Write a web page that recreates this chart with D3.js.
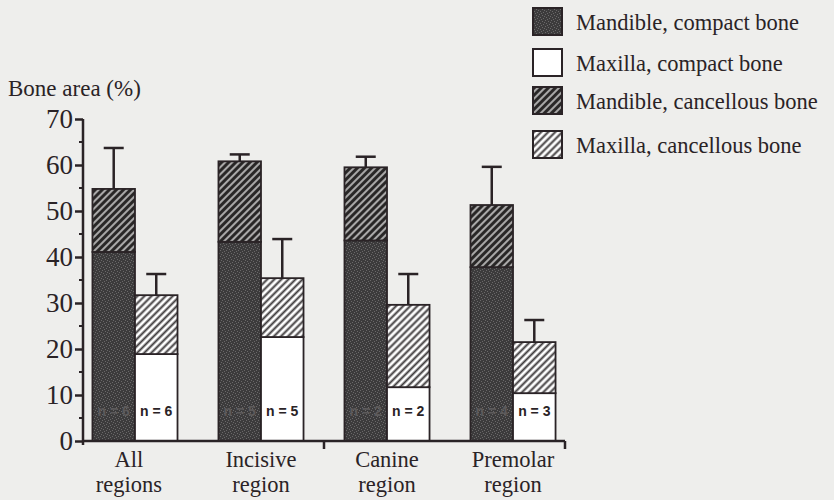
<!DOCTYPE html>
<html>
<head>
<meta charset="utf-8">
<script src="https://cdn.jsdelivr.net/npm/d3@7"></script>
<style>
  html, body { margin: 0; padding: 0; background: #eeeeec; }
  svg { display: block; }
  text { font-family: "Liberation Serif", "DejaVu Serif", serif; fill: #2a2326; }
  .nlab { font-family: "Liberation Sans Narrow", "Liberation Sans", sans-serif; font-weight: bold; font-size: 14px; }
</style>
</head>
<body>
<script>
// categories (two-line labels)
const categories = [["All", "regions"], ["Incisive", "region"], ["Canine", "region"], ["Premolar", "region"]];

// bone area (%) per segment
const mandibleCompact    = [41.1, 43.3, 43.6, 37.8];
const mandibleCancellous = [13.7, 17.5, 15.9, 13.5];
const mandibleError      = [8.9, 1.5, 2.3, 8.3];
const maxillaCompact     = [18.9, 22.6, 11.7, 10.4];
const maxillaCancellous  = [12.8, 12.8, 17.9, 11.1];
const maxillaError       = [4.6, 8.5, 6.7, 4.8];
const nMandible = [6, 5, 2, 4];
const nMaxilla  = [6, 5, 2, 3];

const yTicks = [0, 10, 20, 30, 40, 50, 60, 70];
const legendLabels = ["Mandible, compact bone", "Maxilla, compact bone", "Mandible, cancellous bone", "Maxilla, cancellous bone"];

const width = 834;
const height = 500;
const ink = '#2a2326';

const svg = d3.select('body').append('svg').
    attr('width', width).
    attr('height', height);

// fill patterns
const defs = svg.append('defs');

const stipple = defs.append('pattern').
    attr('id', 'stipple').
    attr('patternUnits', 'userSpaceOnUse').
    attr('width', 6).attr('height', 6);
stipple.append('rect').attr('width', 6).attr('height', 6).attr('fill', '#3c3b3c');
[[0, 0], [3, 1], [1, 3], [4, 4], [2, 5], [5, 2]].forEach(([px, py]) => {
    stipple.append('rect').attr('x', px).attr('y', py).attr('width', 1).attr('height', 1).attr('fill', '#6a6869');
});

const hatch = (id, bg, stroke, sw) => {
    const p = defs.append('pattern').
        attr('id', id).
        attr('patternUnits', 'userSpaceOnUse').
        attr('width', 5).attr('height', 5).
        attr('patternTransform', 'rotate(45)');
    p.append('rect').attr('width', 5).attr('height', 5).attr('fill', bg);
    p.append('line').attr('x1', 1.5).attr('x2', 1.5).attr('y1', 0).attr('y2', 5).
        attr('stroke', stroke).attr('stroke-width', sw);
};
hatch('hatchDark', '#a9a8a8', '#262424', 2.9);
hatch('hatchLight', '#ffffff', '#3e3b3c', 2.0);

const fills = {
    mandCompact: 'url(#stipple)',
    maxCompact: '#ffffff',
    mandCanc: 'url(#hatchDark)',
    maxCanc: 'url(#hatchLight)'
};

// scales
const x0 = d3.scaleBand().
    domain(d3.range(categories.length)).
    range([83, 565]).
    paddingInner(0.325).
    paddingOuter(0.075);

const x1 = d3.scaleBand().
    domain(['mandible', 'maxilla']).
    range([0, x0.bandwidth()]);

const y = d3.scaleLinear().
    domain([0, 70]).
    range([441, 119]);

// build segment rows
const segments = [];
const tops = [];
categories.forEach((c, i) => {
    segments.push({ i, jaw: 'mandible', y0: 0, y1: mandibleCompact[i], fill: fills.mandCompact });
    segments.push({ i, jaw: 'mandible', y0: mandibleCompact[i], y1: mandibleCompact[i] + mandibleCancellous[i], fill: fills.mandCanc });
    segments.push({ i, jaw: 'maxilla', y0: 0, y1: maxillaCompact[i], fill: fills.maxCompact });
    segments.push({ i, jaw: 'maxilla', y0: maxillaCompact[i], y1: maxillaCompact[i] + maxillaCancellous[i], fill: fills.maxCanc });
    tops.push({ i, jaw: 'mandible', top: mandibleCompact[i] + mandibleCancellous[i], err: mandibleError[i], n: nMandible[i] });
    tops.push({ i, jaw: 'maxilla', top: maxillaCompact[i] + maxillaCancellous[i], err: maxillaError[i], n: nMaxilla[i] });
});

const g = svg.append('g');

// error bars (drawn first, bars cover stem bottom)
const err = g.selectAll('.err').data(tops).enter().append('g').attr('class', 'err');
err.append('line').
    attr('x1', d => x0(d.i) + x1(d.jaw) + x1.bandwidth() / 2).
    attr('x2', d => x0(d.i) + x1(d.jaw) + x1.bandwidth() / 2).
    attr('y1', d => y(d.top)).
    attr('y2', d => y(d.top + d.err)).
    attr('stroke', ink).attr('stroke-width', 2.5);
err.append('line').
    attr('x1', d => x0(d.i) + x1(d.jaw) + x1.bandwidth() / 2 - 10).
    attr('x2', d => x0(d.i) + x1(d.jaw) + x1.bandwidth() / 2 + 10).
    attr('y1', d => y(d.top + d.err)).
    attr('y2', d => y(d.top + d.err)).
    attr('stroke', ink).attr('stroke-width', 2.5);

g.selectAll('.seg').data(segments).enter().append('rect').
    attr('class', 'seg').
    attr('x', d => x0(d.i) + x1(d.jaw)).
    attr('width', x1.bandwidth()).
    attr('y', d => y(d.y1)).
    attr('height', d => y(d.y0) - y(d.y1)).
    attr('fill', d => d.fill).
    attr('stroke', ink).
    attr('stroke-width', 1.8);

// n labels
g.selectAll('.nlab').data(tops).enter().append('text').
    attr('class', 'nlab').
    attr('x', d => x0(d.i) + x1(d.jaw) + x1.bandwidth() / 2).
    attr('y', 416).
    attr('text-anchor', 'middle').
    style('fill', d => d.jaw === 'maxilla' ? ink : '#5c5a5b').
    text(d => `n = ${d.n}`);

// y axis
const yAxis = d3.axisLeft(y).
    tickValues(yTicks).
    tickSize(8).
    tickPadding(2).
    tickFormat(d3.format('d'));

const ya = svg.append('g').
    attr('transform', 'translate(83,0)').
    call(yAxis);
ya.select('.domain').remove();
ya.append('line').attr('x1', 0).attr('x2', 0).attr('y1', y(70)).attr('y2', y(0) + 4).
    attr('stroke', ink).attr('stroke-width', 2.5);
ya.selectAll('.tick line').attr('stroke', ink).attr('stroke-width', 2.5);
ya.selectAll('.tick text').
    style('font-size', '27px').
    style('font-family', '"Liberation Serif", serif').
    attr('fill', ink);

// minor ticks
ya.selectAll('.minor').data(d3.range(5, 70, 10)).enter().append('line').
    attr('x1', -4).attr('x2', 0).
    attr('y1', d => y(d)).attr('y2', d => y(d)).
    attr('stroke', ink).attr('stroke-width', 2);

// x axis
const xa = svg.append('g');
xa.append('line').attr('x1', 83).attr('x2', 565).attr('y1', y(0)).attr('y2', y(0)).
    attr('stroke', ink).attr('stroke-width', 2.5);
[x0(2) - x0.step() * x0.paddingInner() / 2, 565].forEach(px => {
    xa.append('line').attr('x1', px).attr('x2', px).attr('y1', y(0)).attr('y2', y(0) + 8).
        attr('stroke', ink).attr('stroke-width', 2.5);
});

// category labels, one text per line
const labelX = (i) => x0(i) + x0.bandwidth() / 2 - (i === 0 ? 6 : 0);
[0, 1].forEach(line => {
    xa.selectAll(`.xlab${line}`).data(categories).enter().append('text').
        attr('class', `xlab${line}`).
        attr('text-anchor', 'middle').
        attr('x', (d, i) => labelX(i)).
        attr('y', line === 0 ? 467 : 492).
        style('font-size', '22.5px').
        text(d => d[line]);
});

// y title
svg.append('text').
    attr('x', 8).attr('y', 96).
    style('font-size', '23px').
    text('Bone area (%)');

// legend
const legendFills = [fills.mandCompact, fills.maxCompact, fills.mandCanc, fills.maxCanc];
const lg = svg.selectAll('.leg').data(legendLabels).enter().append('g').
    attr('class', 'leg').
    attr('transform', (d, i) => `translate(533, ${[8, 49, 87, 131][i]})`);
lg.append('rect').
    attr('width', 29).attr('height', 27).
    attr('fill', (d, i) => legendFills[i]).
    attr('stroke', ink).attr('stroke-width', 2);
lg.append('text').
    attr('x', 43).attr('y', 22).
    style('font-size', '22.5px').
    text(d => d);
</script>
</body>
</html>
